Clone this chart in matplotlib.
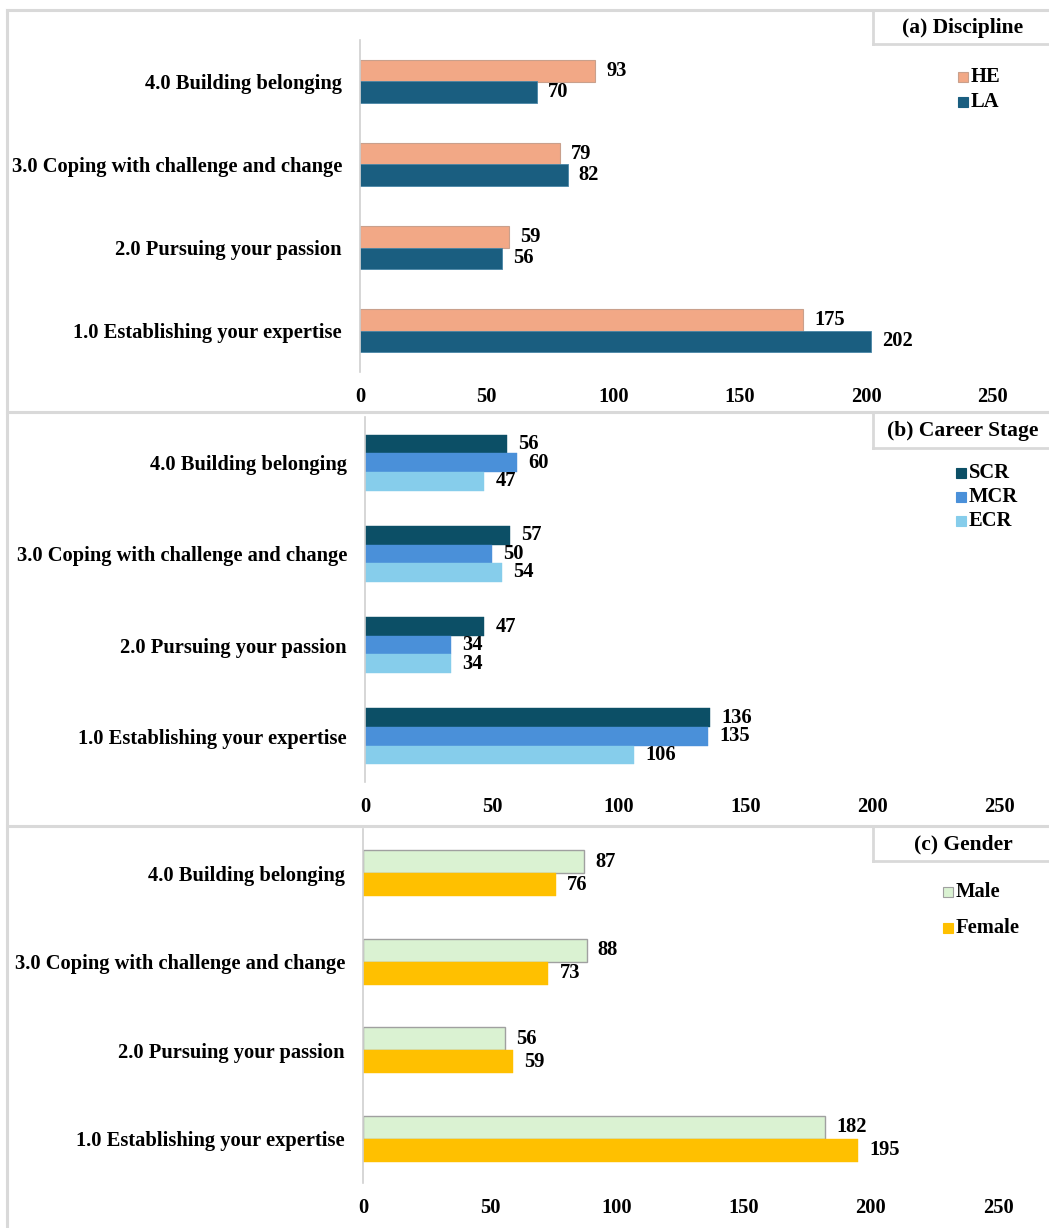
import matplotlib
matplotlib.use("Agg")
import matplotlib.pyplot as plt
from matplotlib.patches import Rectangle
from matplotlib.lines import Line2D
import numpy as np

categories = ['1.0 Establishing your expertise', '2.0 Pursuing your passion',
              '3.0 Coping with challenge and change', '4.0 Building belonging']
xticks = [0, 50, 100, 150, 200, 250]

he = [175, 59, 79, 93]
la = [202, 56, 82, 70]

scr = [136, 47, 57, 56]
mcr = [135, 34, 50, 60]
ecr = [106, 34, 54, 47]

male = [182, 56, 88, 87]
female = [195, 59, 73, 76]

W, H = 1049, 1228
plt.rcParams['font.family'] = ['Liberation Serif', 'DejaVu Serif']
plt.rcParams['font.weight'] = 'bold'
fig = plt.figure(figsize=(W / 100, H / 100), dpi=100)

def fx(x):
    return x / W

def fy(y):
    return 1 - y / H

GRID = '#d9d9d9'
FS = 14.8

# panel borders
fig.add_artist(Line2D([fx(7), fx(7)], [fy(10), fy(1228)], color=GRID, lw=2.2))
for yy in [10, 412, 826]:
    fig.add_artist(Line2D([fx(7), fx(1049)], [fy(yy), fy(yy)], color=GRID, lw=2.2))


def make_axes(left, right, top, bottom):
    ax = fig.add_axes([fx(left), fy(bottom), (right - left) / W, (bottom - top) / H])
    ax.set_xlim(0, 250)
    ax.set_ylim(-0.5, 3.5)
    for s in ['top', 'right', 'bottom']:
        ax.spines[s].set_visible(False)
    ax.spines['left'].set_color('#d0d0d0')
    ax.spines['left'].set_linewidth(1.2)
    ax.set_xticks(xticks)
    ax.set_xticklabels([str(t) for t in xticks], fontsize=FS, fontweight='bold')
    ax.set_yticks(range(len(categories)))
    ax.set_yticklabels(categories, fontsize=FS, fontweight='bold')
    ax.tick_params(axis='x', length=0, pad=11)
    ax.tick_params(axis='y', length=0, pad=13)
    ax.patch.set_alpha(0)
    return ax


def series(ax, vals, offset, h, color, edge, lw):
    y = np.arange(len(vals)) + offset
    bars = ax.barh(y, vals, height=h, color=color, edgecolor=edge, linewidth=lw)
    for b, v in zip(bars, vals):
        ax.annotate(str(v), (b.get_width(), b.get_y() + b.get_height() / 2),
                    xytext=(8, 0), textcoords='offset points', va='center',
                    ha='left', fontsize=FS, fontweight='bold')


def title_box(text, top, bottom):
    fig.add_artist(Line2D([fx(873), fx(873)], [fy(top), fy(bottom)], color=GRID, lw=2.0))
    fig.add_artist(Line2D([fx(873), fx(1049)], [fy(bottom), fy(bottom)], color=GRID, lw=2.0))
    fig.text(fx(963), fy((top + bottom) / 2), text, ha='center', va='center',
             fontsize=15.5, fontweight='bold')


def legend_entries(items, xsq, ys):
    for (label, color, edge), yy in zip(items, ys):
        s = 10
        fig.add_artist(Rectangle((fx(xsq), fy(yy + s / 2)), s / W, s / H,
                                 facecolor=color, edgecolor=edge, lw=0.8))
        fig.text(fx(xsq + s + 3), fy(yy), label, ha='left', va='center',
                 fontsize=FS, fontweight='bold')


# (a) Discipline
C_HE, C_LA = '#F2A886', '#1A5E80'
axa = make_axes(360, 993, 40, 372)
h = 0.265
series(axa, he, h / 2, h, C_HE, '#c9a08c', 0.8)
series(axa, la, -h / 2, h, C_LA, '#4a86a6', 0.6)
title_box('(a) Discipline', 12, 44)
legend_entries([('HE', C_HE, '#c9a08c'), ('LA', C_LA, C_LA)], 958, [77, 102])

# (b) Career Stage
C_SCR, C_MCR, C_ECR = '#0C4F66', '#4A90D9', '#86CDEB'
axb = make_axes(365, 1000, 417, 782)
h = 0.204
series(axb, scr, h, h, C_SCR, C_SCR, 0.3)
series(axb, mcr, 0, h, C_MCR, C_MCR, 0.3)
series(axb, ecr, -h, h, C_ECR, C_ECR, 0.3)
title_box('(b) Career Stage', 414, 448)
legend_entries([('SCR', C_SCR, C_SCR), ('MCR', C_MCR, C_MCR), ('ECR', C_ECR, C_ECR)],
               956, [473, 497, 521])

# (c) Gender
C_M, C_F = '#DAF2D2', '#FFC000'
axc = make_axes(363, 998, 829, 1183)
h = 0.26
series(axc, male, h / 2, h, C_M, '#a0a0a0', 1.0)
series(axc, female, -h / 2, h, C_F, C_F, 0.3)
title_box('(c) Gender', 828, 861)
legend_entries([('Male', C_M, '#a0a0a0'), ('Female', C_F, C_F)], 943, [892, 928])

fig.savefig('out.png', dpi=100)
